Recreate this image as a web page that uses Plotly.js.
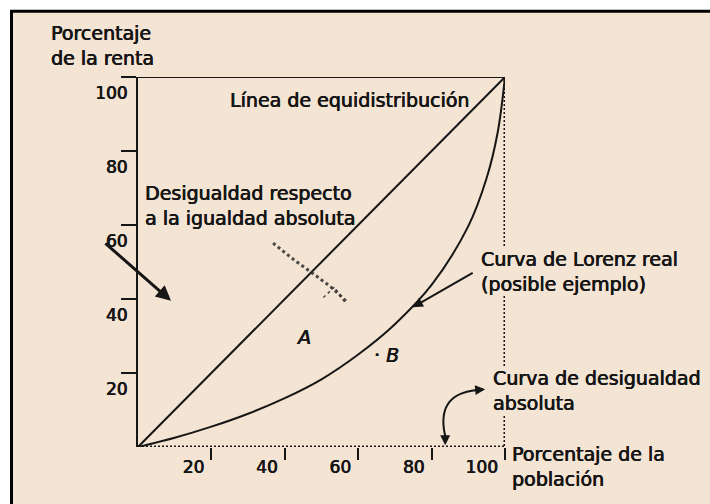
<!DOCTYPE html>
<html>
<head>
<meta charset="utf-8">
<script src="https://cdn.plot.ly/plotly-3.0.1.min.js"></script>
<style>html,body{margin:0;padding:0;background:#fff;}#chart{width:710px;height:504px;}</style>
</head>
<body>
<div id="chart"></div>
<script>
// Porcentaje de la población (eje X) y de la renta (eje Y)
const poblacion = [0, 10, 20, 30, 40, 50, 60, 70, 80, 90, 95, 98, 100];
const rentaLorenz = [0, 2.5, 5.5, 9.0, 13.2, 18.3, 25.0, 33.2, 43.8, 59.7, 72.7, 85.0, 100];
const equidistX = [0, 100];
const equidistY = [0, 100];
const desigualdadX = [0, 100, 100];
const desigualdadY = [0, 0, 100];
const topeX = [0, 100];
const topeY = [100, 100];
const manchaX = [36.8, 42.5, 48.2, 52.5, 57.0];
const manchaY = [55.1, 50.6, 46.5, 43.3, 39.2];
const manchaAX = [50.5, 53.5, 56.5];
const manchaAY = [40.4, 43.2, 38.9];
const ticksX = [20, 40, 60, 80, 100];
const ticksY = [20, 40, 60, 80, 100];
const tickLabelsX = ['20', '40', '60', '80', '100'];
const tickLabelsY = ['20', '40', '60', '80', '100'];

const INK = '#161616';
const BG = '#f3e4d3';
const FONT = 'DejaVu Sans, Liberation Sans, sans-serif';
const SHADOW = '0.45px 0 0 #161616, -0.2px 0 0 #161616';

const traces = [
  {x: desigualdadX, y: desigualdadY, mode: 'lines', line: {color: INK, width: 3, dash: '2px,2px'}, cliponaxis: false, hoverinfo: 'skip'},
  {x: topeX, y: topeY, mode: 'lines', line: {color: INK, width: 2}, cliponaxis: false, hoverinfo: 'skip'},
  {x: equidistX, y: equidistY, mode: 'lines', line: {color: INK, width: 2}, cliponaxis: false, hoverinfo: 'skip'},
  {x: poblacion, y: rentaLorenz, mode: 'lines', line: {color: INK, width: 2, shape: 'spline', smoothing: 1}, cliponaxis: false, hoverinfo: 'skip'},
  {x: manchaX, y: manchaY, mode: 'lines', line: {color: '#2e2e2e', width: 3, dash: 'dot'}, opacity: 0.85, hoverinfo: 'skip'},
  {x: manchaAX, y: manchaAY, mode: 'lines', line: {color: '#2e2e2e', width: 1.5, dash: 'dot'}, opacity: 0.85, hoverinfo: 'skip'}
];

function txt(text, x, y, extra) {
  return Object.assign({
    text: text, x: x, y: y, xref: 'x', yref: 'y', showarrow: false,
    xanchor: 'left', yanchor: 'middle', align: 'left',
    font: {family: FONT, size: 19, color: INK, shadow: SHADOW}
  }, extra || {});
}

const annotations = [
  txt('Porcentaje<br>de la renta', -0.2425, 1.084, {xref: 'paper', yref: 'paper'}),
  txt('Línea de equidistribución', 24.5, 93.8),
  txt('Desigualdad respecto<br>a la igualdad absoluta', 1.4, 65.4),
  txt('<i>A</i>', 45, 29.7, {xanchor: 'center'}),
  txt('· <i>B</i>', 67.6, 24.9, {xanchor: 'center'}),
  txt('Curva de Lorenz real<br>(posible ejemplo)', 93.2, 47.4, {bgcolor: BG, borderpad: 0}),
  txt('Curva de desigualdad<br>absoluta', 96.5, 15.4, {bgcolor: BG, borderpad: 0}),
  txt('Porcentaje de la<br>población', 1.0136, -0.0527, {xref: 'paper', yref: 'paper'}),
  // flechas
  {x: 9.0, y: 39.5, ax: -9.3, ay: 55.4, axref: 'x', ayref: 'y', xref: 'x', yref: 'y', text: '', showarrow: true,
   arrowhead: 2, arrowsize: 1, arrowwidth: 3, arrowcolor: INK},
  {x: 74.9, y: 37.8, ax: 91.6, ay: 47.3, axref: 'x', ayref: 'y', xref: 'x', yref: 'y', text: '', showarrow: true,
   arrowhead: 2, arrowsize: 1, arrowwidth: 2, arrowcolor: INK},
  {x: 83.7, y: 0.5, ax: 0, ay: -12, xref: 'x', yref: 'y', text: '', showarrow: true,
   arrowhead: 2, arrowsize: 1, arrowwidth: 2, arrowcolor: INK},
  {x: 94.6, y: 15.6, ax: -12, ay: 1, xref: 'x', yref: 'y', text: '', showarrow: true,
   arrowhead: 2, arrowsize: 1, arrowwidth: 2, arrowcolor: INK}
];

const shapes = [
  {type: 'rect', xref: 'paper', yref: 'paper', x0: -0.3447, x1: 1.95, y0: -0.25, y1: 1.178,
   fillcolor: BG, line: {color: '#000', width: 3}, layer: 'below'},
  {type: 'path', xref: 'x', yref: 'y', path: 'M 83.7,3 Q 80.9,15.2 94,15.5', line: {color: INK, width: 2}}
];

const layout = {
  width: 710, height: 504,
  margin: {l: 138, r: 205, t: 77, b: 57, pad: 0},
  paper_bgcolor: '#ffffff',
  plot_bgcolor: 'rgba(0,0,0,0)',
  showlegend: false,
  font: {family: FONT, color: INK},
  xaxis: {
    range: [0, 100], showgrid: false, zeroline: false, showline: false,
    ticks: 'outside', ticklen: 12, tickwidth: 2, tickcolor: INK,
    tickmode: 'array', tickvals: ticksX, ticktext: tickLabelsX,
    ticklabelposition: 'outside left', ticklabelshift: -6, ticklabelstandoff: 5,
    tickfont: {family: FONT, size: 17, color: INK, shadow: SHADOW}
  },
  yaxis: {
    range: [0, 100], showgrid: false, zeroline: false,
    showline: true, linecolor: INK, linewidth: 2,
    ticks: 'outside', ticklen: 15, tickwidth: 2, tickcolor: INK,
    tickmode: 'array', tickvals: ticksY, ticktext: tickLabelsY,
    ticklabelposition: 'outside bottom', ticklabelshift: 3, ticklabelstandoff: 5,
    tickfont: {family: FONT, size: 17, color: INK, shadow: SHADOW}
  },
  annotations: annotations,
  shapes: shapes
};

Plotly.newPlot('chart', traces, layout, {displayModeBar: false, staticPlot: true});
</script>
</body>
</html>
